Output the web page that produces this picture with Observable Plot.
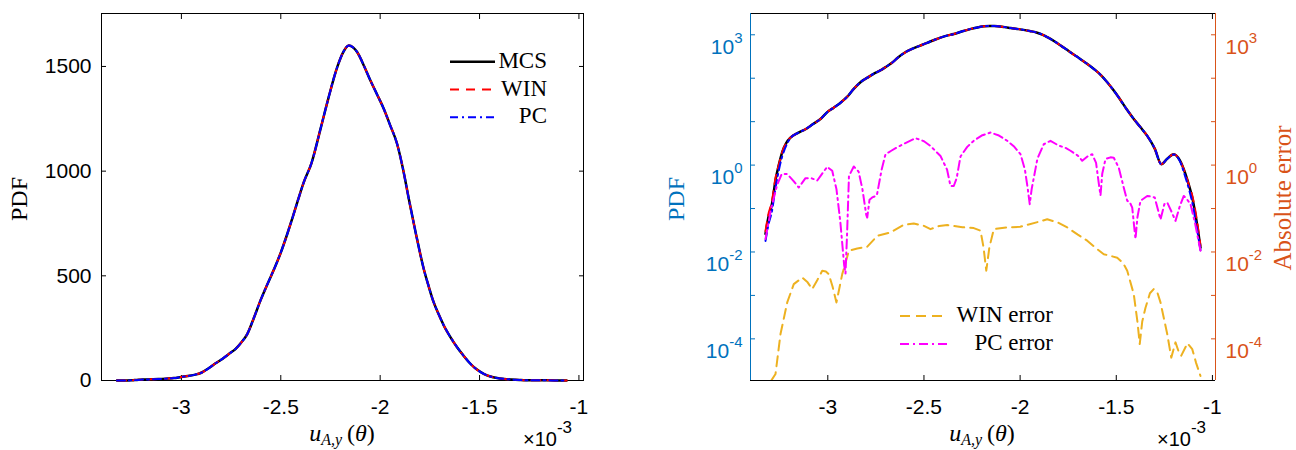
<!DOCTYPE html>
<html><head><meta charset="utf-8">
<script src="https://cdn.jsdelivr.net/npm/d3@7"></script>
<script src="https://cdn.jsdelivr.net/npm/@observablehq/plot@0.6"></script>
<style>
body{margin:0;background:#fff;}
#wrap{position:relative;width:1296px;height:450px;overflow:hidden;background:#fff;}
#wrap > svg{position:absolute;top:0;}
</style></head><body><div id="wrap"></div>
<script>
// ---- data (x in units of 1e-3) ----
const pdfX = [-3.324,-3.31,-3.29,-3.272,-3.255,-3.237,-3.215,-3.194,-3.155,-3.116,-3.077,-3.038,-3.0,-2.969,-2.935,-2.9,-2.865,-2.83,-2.794,-2.76,-2.727,-2.7,-2.668,-2.635,-2.601,-2.565,-2.526,-2.5,-2.467,-2.44,-2.414,-2.385,-2.345,-2.3,-2.26,-2.216,-2.185,-2.158,-2.135,-2.116,-2.08,-2.049,-2.015,-1.982,-1.95,-1.915,-1.885,-1.856,-1.82,-1.781,-1.756,-1.731,-1.705,-1.68,-1.645,-1.613,-1.58,-1.546,-1.513,-1.479,-1.445,-1.412,-1.375,-1.339,-1.3,-1.266,-1.235,-1.201,-1.17,-1.14,-1.12,-1.105,-1.085,-1.062];
const pdfMCS = [0.026,0.06,0.13,0.45,1.0,2.0,3.3,4.3,5.5,6.7,8.8,11.5,17,21,27,37,57,81,103,128,151,180,223,300,385,465,549,611,701,780,860,945,1040,1202,1350,1497,1570,1600,1590,1569,1500,1433,1365,1298,1220,1131,1010,868,700,534,450,374,315,263,205,159,118,80,52,32,19,12,7.5,4.7,2.4,1.05,1.4,1.78,1.3,0.62,0.32,0.18,0.06,0.0126];
const pdfWIN = [0.03,0.07,0.15,0.5,1.0,2.0,3.3,4.3,5.5,6.7,8.8,11.5,17,21,27,37,57,81,103,128,151,180,223,300,385,465,549,611,701,780,860,945,1040,1202,1350,1497,1570,1600,1590,1569,1500,1433,1365,1298,1220,1131,1010,868,700,534,450,374,315,263,205,159,118,80,52,32,19,12,7.5,4.7,2.4,1.05,1.4,1.78,1.3,0.62,0.32,0.2,0.07,0.014];
const pdfPC = [0.018,0.04,0.09,0.3,0.75,1.6,2.9,4.2,5.5,6.7,8.8,11.5,17,21,27,37,57,81,103,128,151,180,223,300,385,465,549,611,701,780,860,945,1040,1202,1350,1497,1570,1600,1590,1569,1500,1433,1365,1298,1220,1131,1010,868,700,534,450,374,315,263,205,159,118,80,52,32,19,12,7.5,4.7,2.4,1.05,1.4,1.75,1.25,0.52,0.26,0.14,0.045,0.011];

const winErrX = [-3.33,-3.30,-3.272,-3.246,-3.211,-3.177,-3.133,-3.105,-3.081,-3.055,-3.029,-3.01,-2.995,-2.975,-2.955,-2.925,-2.89,-2.847,-2.795,-2.743,-2.674,-2.605,-2.553,-2.5,-2.466,-2.42,-2.379,-2.3,-2.241,-2.206,-2.19,-2.176,-2.16,-2.137,-2.067,-2.0,-1.963,-1.9,-1.859,-1.8,-1.755,-1.7,-1.651,-1.6,-1.565,-1.495,-1.465,-1.443,-1.409,-1.39,-1.378,-1.365,-1.348,-1.325,-1.305,-1.285,-1.27,-1.235,-1.214,-1.192,-1.175,-1.162,-1.13,-1.105,-1.085,-1.062];
const winErrY = [5e-6,1e-5,1.55e-5,1.29e-4,6.9e-4,1.82e-3,2.57e-3,2.0e-3,1.4e-3,2.24e-3,3.68e-3,3.55e-3,3.09e-3,1.58e-3,6.9e-4,3.09e-3,0.0107,0.012,0.0132,0.0234,0.0282,0.0422,0.0452,0.0398,0.0335,0.0398,0.0417,0.0372,0.0355,0.0309,0.0126,0.0037,0.0126,0.0335,0.0367,0.038,0.0422,0.050,0.0569,0.0468,0.0367,0.0251,0.0182,0.0117,0.0089,0.0074,0.0056,0.0037,0.00107,2.5e-4,7.6e-5,2.5e-4,5.2e-4,1.12e-3,1.4e-3,1.12e-3,6.9e-4,1.29e-4,3.7e-5,8.3e-5,5e-5,4.1e-5,7.9e-5,5.8e-5,2.8e-5,1.4e-5];

const pcErrX = [-3.324,-3.295,-3.263,-3.24,-3.211,-3.18,-3.151,-3.116,-3.085,-3.055,-3.03,-3.003,-2.977,-2.955,-2.935,-2.915,-2.908,-2.9,-2.89,-2.865,-2.84,-2.82,-2.8,-2.795,-2.783,-2.769,-2.745,-2.72,-2.7,-2.67,-2.639,-2.6,-2.544,-2.5,-2.466,-2.414,-2.38,-2.362,-2.345,-2.33,-2.31,-2.275,-2.241,-2.2,-2.154,-2.11,-2.067,-2.03,-1.998,-1.975,-1.96,-1.95,-1.94,-1.91,-1.877,-1.842,-1.8,-1.765,-1.738,-1.7,-1.677,-1.65,-1.625,-1.605,-1.59,-1.582,-1.573,-1.556,-1.53,-1.513,-1.487,-1.465,-1.443,-1.43,-1.417,-1.405,-1.4,-1.39,-1.374,-1.339,-1.32,-1.3,-1.27,-1.25,-1.235,-1.215,-1.192,-1.17,-1.149,-1.13,-1.114,-1.09,-1.062];
const pcErrY = [0.020,0.10,0.355,0.62,0.62,0.44,0.305,0.50,0.50,0.44,0.63,0.91,0.74,0.28,0.05,0.005,0.0032,0.025,0.56,0.93,0.71,0.28,0.071,0.062,0.16,0.18,0.20,0.79,1.78,2.14,2.57,3.16,4.17,3.55,2.75,1.62,0.79,0.33,0.33,0.50,1.58,2.63,3.63,4.79,5.62,4.79,3.63,2.63,1.78,0.79,0.28,0.126,0.28,1.41,3.02,3.63,2.82,2.51,2.14,1.66,1.26,1.58,1.78,1.12,0.355,0.20,0.63,1.38,1.51,1.48,0.87,0.355,0.151,0.141,0.105,0.032,0.020,0.063,0.151,0.195,0.19,0.18,0.056,0.126,0.138,0.089,0.052,0.112,0.195,0.158,0.126,0.045,0.0107];

const xTicks = [-3,-2.5,-2,-1.5,-1];
const linTicks = [0,500,1000,1500];
const logTicks = [1e-4,1e-3,1e-2,1e-1,1,10,100,1000];
const logLabelTicks = [1e-4,1e-2,1,1000];
const legendLeft = ["MCS","WIN","PC"];
const legendRight = ["WIN error","PC error"];

// ---- build ----
const rows = (xs, ys) => xs.map((x,i)=>({x, y: ys[i]}));
const mcs = rows(pdfX,pdfMCS), win = rows(pdfX,pdfWIN), pc = rows(pdfX,pdfPC);
const werr = rows(winErrX,winErrY), perr = rows(pcErrX,pcErrY);
const SANS = "'Liberation Sans', Arial, Helvetica, sans-serif";
const SERIF = "'Liberation Serif', 'Times New Roman', serif";
const BLUE = "#0072BD", ORANGE = "#D95319";
const fmt = d => String(d);
const sty = {fontFamily: SANS, fontSize: "21px", background: "transparent", overflow: "visible", color: "black"};

const pdfLines = (clip) => [
  Plot.line(mcs, {x:"x", y:"y", stroke:"black", strokeWidth:2.5, curve:"monotone-x", clip}),
  Plot.line(win, {x:"x", y:"y", stroke:"#ff0000", strokeWidth:2, strokeDasharray:"9,7", curve:"monotone-x", clip}),
  Plot.line(pc, {x:"x", y:"y", stroke:"#0000ff", strokeWidth:2, strokeDasharray:"8,4,2,4", curve:"monotone-x", clip})
];

const left = Plot.plot({
  width: 648, height: 450,
  marginLeft: 101, marginRight: 65, marginTop: 13, marginBottom: 70,
  style: sty,
  x: {domain: [-3.402, -0.977], label: null},
  y: {domain: [0, 1753], label: null},
  marks: [
    Plot.frame({stroke: "black", strokeWidth: 1}),
    Plot.axisX({ticks: xTicks, anchor: "bottom", tickSize: -5, tickPadding: 24, tickFormat: fmt, label: null}),
    Plot.axisX({ticks: xTicks, anchor: "top", tickSize: -5, tickFormat: () => "", label: null}),
    Plot.axisY({ticks: linTicks, anchor: "left", tickSize: -5, tickPadding: 15, tickFormat: fmt, label: null}),
    Plot.axisY({ticks: linTicks, anchor: "right", tickSize: -5, tickFormat: () => "", label: null}),
    ...pdfLines(false)
  ]
});
left.style.left = "0px";

const yMin = 1.1e-5, yMax = 3090, xMin = -3.402, xMax = -0.984;
const right = Plot.plot({
  width: 648, height: 450,
  marginLeft: 102, marginRight: 81, marginTop: 13, marginBottom: 70,
  style: sty,
  x: {domain: [xMin, xMax], label: null},
  y: {type: "log", domain: [yMin, yMax], label: null},
  marks: [
    Plot.ruleY([yMin], {stroke: "black"}),
    Plot.ruleY([yMax], {stroke: "black"}),
    Plot.ruleX([xMin], {stroke: BLUE}),
    Plot.ruleX([xMax], {stroke: ORANGE}),
    Plot.axisX({ticks: xTicks, anchor: "bottom", tickSize: -5, tickPadding: 24, tickFormat: fmt, label: null}),
    Plot.axisX({ticks: xTicks, anchor: "top", tickSize: -5, tickFormat: () => "", label: null}),
    Plot.axisY({ticks: logTicks, anchor: "left", tickSize: -5, tickFormat: () => "", label: null, color: BLUE}),
    Plot.axisY({ticks: logLabelTicks, anchor: "left", tickSize: 0, tickPadding: 8, tickFormat: d => "10^" + Math.round(Math.log10(d)), label: null, color: BLUE}),
    Plot.axisY({ticks: logTicks, anchor: "right", tickSize: -5, tickFormat: () => "", label: null, color: ORANGE}),
    Plot.axisY({ticks: logLabelTicks, anchor: "right", tickSize: 0, tickPadding: 10, tickFormat: d => "10^" + Math.round(Math.log10(d)), label: null, color: ORANGE}),
    ...pdfLines(true),
    Plot.line(werr, {x:"x", y:"y", stroke:"#EDB120", strokeWidth:2, strokeDasharray:"10,6", clip:true}),
    Plot.line(perr, {x:"x", y:"y", stroke:"#FF00FF", strokeWidth:2, strokeDasharray:"9,4,2,4", clip:true})
  ]
});
right.style.left = "648px";

const NS = "http://www.w3.org/2000/svg";
function supify(svg){
  svg.querySelectorAll("text").forEach(t => {
    const m = /^10\^(-?\d+)$/.exec(t.textContent);
    if (!m) return;
    while (t.firstChild) t.removeChild(t.firstChild);
    const a = document.createElementNS(NS, "tspan"); a.textContent = "10"; a.setAttribute("dy", "0.58em");
    const b = document.createElementNS(NS, "tspan"); b.textContent = m[1]; b.setAttribute("dy", "-11"); b.setAttribute("font-size", "15");
    t.append(a, b);
  });
}
supify(right);

const wrap = document.getElementById("wrap");
wrap.append(left, right);

// ---- overlay: axis titles, exponent labels, legends ----
function el(tag, attrs, parent, text){
  const e = document.createElementNS(NS, tag);
  for (const k in attrs) e.setAttribute(k, attrs[k]);
  if (text != null) e.textContent = text;
  if (parent) parent.appendChild(e);
  return e;
}
const ov = el("svg", {width: 1296, height: 450, viewBox: "0 0 1296 450"});
ov.style.left = "0px"; ov.style.pointerEvents = "none";
wrap.appendChild(ov);

// y titles
el("text", {x: 0, y: 0, transform: "translate(27,199) rotate(-90)", "text-anchor": "middle", "font-family": SERIF, "font-size": 24, fill: "black"}, ov, "PDF");
el("text", {x: 0, y: 0, transform: "translate(684,199) rotate(-90)", "text-anchor": "middle", "font-family": SERIF, "font-size": 24, fill: BLUE}, ov, "PDF");
el("text", {x: 0, y: 0, transform: "translate(1291,198) rotate(-90)", "text-anchor": "middle", "font-family": SERIF, "font-size": 25, fill: ORANGE}, ov, "Absolute error");

// x titles
function xTitle(cx){
  const t = el("text", {x: cx, y: 441, "text-anchor": "middle", "font-family": SERIF, "font-size": 24, fill: "black"}, ov);
  el("tspan", {"font-style": "italic"}, t, "u");
  el("tspan", {"font-style": "italic", "font-size": 16, dy: 4}, t, "A,y");
  el("tspan", {dy: -4}, t, "\u2009(");
  el("tspan", {"font-style": "italic"}, t, "θ");
  el("tspan", {}, t, ")");
}
xTitle(342); xTitle(982);

// x exponent
function xExp(x0){
  const t = el("text", {x: x0, y: 446, "font-family": SANS, "font-size": 20, fill: "black"}, ov);
  el("tspan", {}, t, "×10");
  el("tspan", {dy: -13, "font-size": 17}, t, "-3");
}
xExp(523); xExp(1157);

// legends
const legL = [
  {stroke: "black", w: 2.5, dash: null},
  {stroke: "#ff0000", w: 2, dash: "9,7"},
  {stroke: "#0000ff", w: 2, dash: "8,4,2,4"}
];
legendLeft.forEach((name, i) => {
  const y = 61.7 + i * 27.8;
  el("line", {x1: 450, x2: 495, y1: y, y2: y, stroke: legL[i].stroke, "stroke-width": legL[i].w, ...(legL[i].dash ? {"stroke-dasharray": legL[i].dash} : {})}, ov);
  el("text", {x: 547, y: y + 6, "text-anchor": "end", "font-family": SERIF, "font-size": 23, fill: "black"}, ov, name);
});
const legR = [
  {stroke: "#EDB120", dash: "10,6"},
  {stroke: "#FF00FF", dash: "9,4,2,4"}
];
legendRight.forEach((name, i) => {
  const y = 316 + i * 28;
  el("line", {x1: 900, x2: 947, y1: y, y2: y, stroke: legR[i].stroke, "stroke-width": 2, "stroke-dasharray": legR[i].dash}, ov);
  el("text", {x: 1053, y: y + 6, "text-anchor": "end", "font-family": SERIF, "font-size": 23, fill: "black"}, ov, name);
});
</script></body></html>
